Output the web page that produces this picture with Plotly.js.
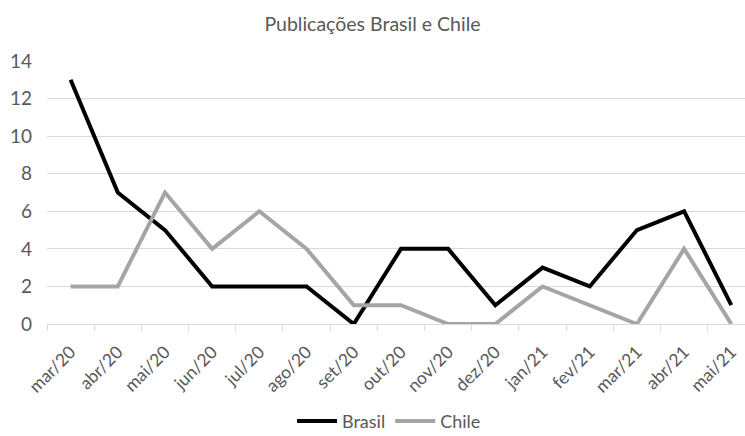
<!DOCTYPE html>
<html>
<head>
<meta charset="utf-8">
<script src="https://cdn.plot.ly/plotly-3.0.1.min.js"></script>
<style>html,body{margin:0;padding:0;background:#fff;}#chart{width:745px;height:436px;}</style>
</head>
<body>
<div id="chart"></div>
<script>
const categories = ["mar/20","abr/20","mai/20","jun/20","jul/20","ago/20","set/20","out/20","nov/20","dez/20","jan/21","fev/21","mar/21","abr/21","mai/21"];
const brasil = [13,7,5,2,2,2,0,4,4,1,3,2,5,6,1];
const chile = [2,2,7,4,6,4,1,1,0,0,2,1,0,4,0];
const yTicks = [0,2,4,6,8,10,12,14];

const font = "Lato, 'Open Sans', sans-serif";
const traces = [
  {x: categories, y: brasil, name: "Brasil", type: "scatter", mode: "lines",
   line: {color: "#000000", width: 4}},
  {x: categories, y: chile, name: "Chile", type: "scatter", mode: "lines",
   line: {color: "#a5a5a5", width: 4}}
];
const layout = {
  width: 745, height: 436,
  margin: {l: 47, r: 0, t: 61, b: 112, autoexpand: false},
  paper_bgcolor: "#ffffff", plot_bgcolor: "#ffffff",
  font: {family: font, color: "#595959", size: 17},
  title: {text: "Publicações Brasil e Chile", x: 0.5, xanchor: "center", y: 0.945, yanchor: "middle",
          font: {family: font, size: 19.5, color: "#595959"}},
  showlegend: true,
  legend: {orientation: "h", x: 0.49, xanchor: "center", yref: "container", y: 0.034, yanchor: "middle",
           itemwidth: 40, font: {family: font, size: 18, color: "#595959"}},
  xaxis: {type: "category", range: [-0.5, 14.29], tickangle: -45, tickson: "boundaries", automargin: false,
          ticks: "outside", ticklen: 6, tickcolor: "#d9d9d9", showline: true, linecolor: "#d9d9d9",
          linewidth: 1, showgrid: false, ticklabelstandoff: 10, tickfont: {family: font, size: 17.5, color: "#595959"}},
  yaxis: {range: [0, 14], tickvals: yTicks, showgrid: true, gridcolor: "#d9d9d9", gridwidth: 1, automargin: false,
          zeroline: false, showline: false, ticks: "", ticklabelstandoff: 14,
          tickfont: {family: font, size: 19, color: "#595959"}}
};
Plotly.newPlot("chart", traces, layout, {displayModeBar: false, staticPlot: true});
</script>
</body>
</html>
